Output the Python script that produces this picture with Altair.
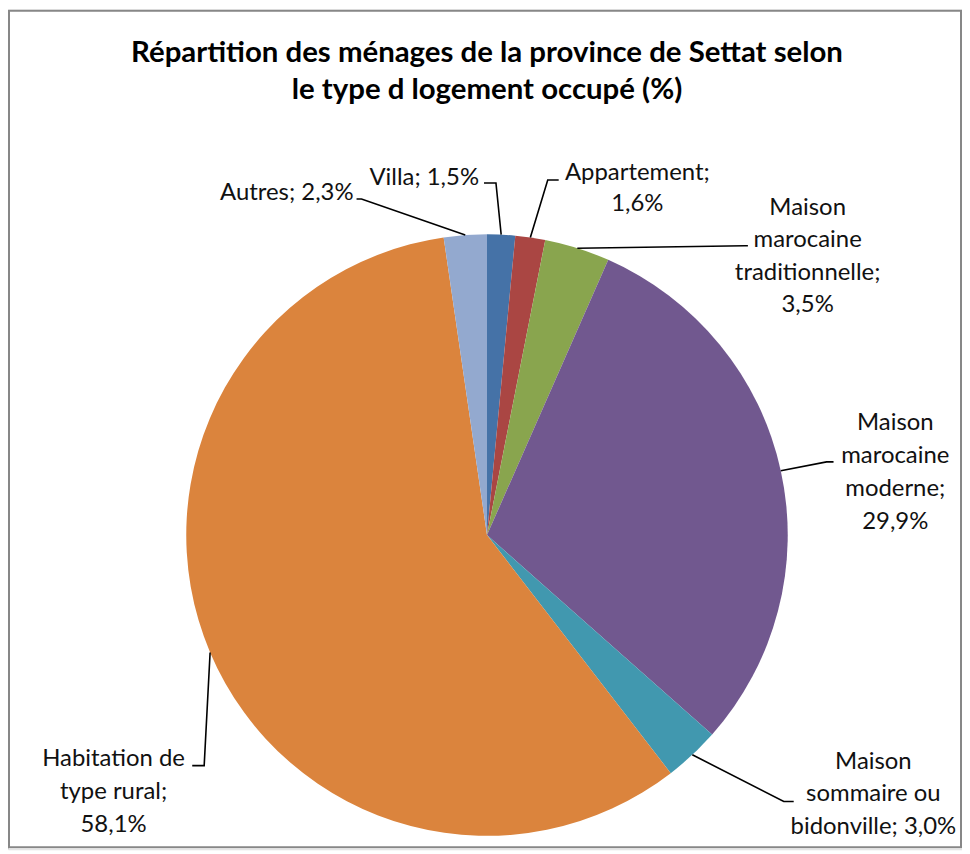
import math
import altair as alt
import pandas as pd

# ---------------- data ----------------
categories = [
    "Villa",
    "Appartement",
    "Maison marocaine traditionnelle",
    "Maison marocaine moderne",
    "Maison sommaire ou bidonville",
    "Habitation de type rural",
    "Autres",
]
values = [1.5, 1.6, 3.5, 29.9, 3.0, 58.1, 2.3]
colors = ["#4572A7", "#AA4643", "#89A54E", "#71588F", "#4198AF", "#DB843D", "#93A9CF"]
title_lines = [
    "Répartition des ménages de la province de Settat selon",
    "le type d logement occupé (%)",
]

# ---------------- layout ----------------
W, H = 958, 843
OFF = 8
CX, CY, R = 489 - OFF, 535.5 - OFF, 302
LINE_H = 33
FONT = "Lato"

# words per label line
line_groups = {
    "Villa": [2],
    "Appartement": [1, 1],
    "Maison marocaine traditionnelle": [1, 1, 1, 1],
    "Maison marocaine moderne": [1, 1, 1, 1],
    "Maison sommaire ou bidonville": [1, 2, 2],
    "Habitation de type rural": [2, 2, 1],
    "Autres": [2],
}
# anchor x, first line centre y (page coords), alignment, line height
label_anchor = {
    "Villa": (481, 177, "right", LINE_H),
    "Appartement": (640, 172, "center", 31),
    "Maison marocaine traditionnelle": (811, 207, "center", 32.5),
    "Maison marocaine moderne": (899, 423, "center", 33),
    "Maison sommaire ou bidonville": (877, 763, "center", 33),
    "Habitation de type rural": (114, 760, "center", 33.5),
    "Autres": (355, 192, "right", LINE_H),
}
# leader elbow and end points (page coords)
leader_path = {
    "Villa": [(498, 182), (486, 182)],
    "Appartement": [(550, 179), (561, 179)],
    "Maison marocaine traditionnelle": [(748, 245), (751, 245)],
    "Maison marocaine moderne": [(830, 462), (837, 462)],
    "Maison sommaire ou bidonville": [(787, 803), (797, 803)],
    "Habitation de type rural": [(205, 767), (193, 767)],
    "Autres": [(363, 198), (358, 198)],
}


def fmt(v):
    return f"{v:.1f}".replace(".", ",") + "%"


pie_df = pd.DataFrame(
    {"cat": categories, "value": values, "order": list(range(len(categories)))}
)

total = sum(values)
lead_rows, text_rows = [], []
cum = 0.0
for cat, v in zip(categories, values):
    ang = 2 * math.pi * (cum + v / 2) / total
    cum += v
    sx, sy = CX + R * math.sin(ang), CY - R * math.cos(ang)
    pts = [(sx, sy)] + [(px - OFF, py - OFF) for px, py in leader_path[cat]]
    for i, (px, py) in enumerate(pts):
        lead_rows.append({"cat": cat, "step": i, "x": px, "y": py})
    words = f"{cat}; {fmt(v)}".split(" ")
    ax, ay, al, lh = label_anchor[cat]
    k = 0
    for j, n in enumerate(line_groups[cat]):
        text_rows.append(
            {"cat": cat, "line": " ".join(words[k:k + n]), "x": ax - OFF,
             "y": ay - OFF + j * lh, "align": al}
        )
        k += n

lead_df = pd.DataFrame(lead_rows)
text_df = pd.DataFrame(text_rows)
title_df = pd.DataFrame(
    {"line": title_lines, "x": [489 - OFF, 489 - OFF], "y": [51 - OFF, 89 - OFF]}
)

xs = alt.X("x:Q", scale=alt.Scale(domain=[0, W], range=[0, W], nice=False, zero=False), axis=None)
ys = alt.Y("y:Q", scale=alt.Scale(domain=[0, H], range=[0, H], nice=False, zero=False), axis=None)

pie = (
    alt.Chart(pie_df)
    .mark_arc(outerRadius=R)
    .encode(
        theta=alt.Theta("value:Q", stack=True),
        order=alt.Order("order:Q"),
        color=alt.Color("cat:N", scale=alt.Scale(domain=categories, range=colors), legend=None),
        x=alt.value(CX),
        y=alt.value(CY),
    )
)

leaders = (
    alt.Chart(lead_df)
    .mark_line(color="#000000", strokeWidth=1.6)
    .encode(x=xs, y=ys, detail="cat:N", order="step:Q")
)

labels_c = (
    alt.Chart(text_df[text_df["align"] == "center"])
    .mark_text(font=FONT, fontSize=24, align="center", baseline="middle", color="#111111")
    .encode(x=xs, y=ys, text="line:N")
)
labels_r = (
    alt.Chart(text_df[text_df["align"] == "right"])
    .mark_text(font=FONT, fontSize=24, align="right", baseline="middle", color="#111111")
    .encode(x=xs, y=ys, text="line:N")
)

title = (
    alt.Chart(title_df)
    .mark_text(font=FONT, fontSize=29.5, fontWeight="bold", align="center", baseline="middle", color="#000000")
    .encode(x=xs, y=ys, text="line:N")
)

border = (
    alt.Chart(pd.DataFrame({"a": [0]}))
    .mark_rect(fill=None, stroke="#878787", strokeWidth=2)
    .encode(x=alt.value(1), x2=alt.value(957), y=alt.value(1), y2=alt.value(841))
)

chart = (
    alt.layer(border, pie, leaders, labels_c, labels_r, title)
    .properties(width=W, height=H, padding=0, autosize=alt.AutoSizeParams(type="none"))
    .configure_view(stroke=None)
    .configure(background="#ffffff")
)

chart.save("out.html", embed_options={"renderer": "svg", "actions": False})
